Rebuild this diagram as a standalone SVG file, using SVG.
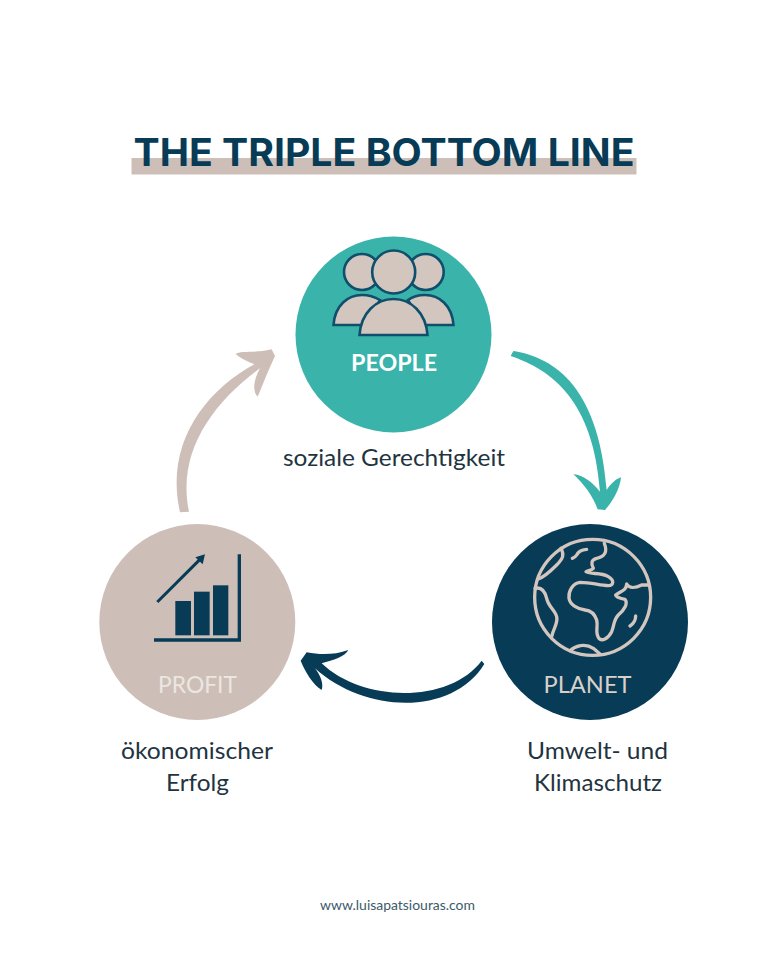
<svg xmlns="http://www.w3.org/2000/svg" width="768" height="960" viewBox="0 0 768 960">
<style>
text{font-family:"Lato","Open Sans","Liberation Sans",sans-serif;text-anchor:middle}
.title{font-family:"Inter","Lato",sans-serif;font-size:38px;font-weight:700;fill:#073b56}
.cap{font-size:23px;font-weight:400;fill:#1f3441}
.tag{font-size:23px;font-weight:400}
.person{fill:#d2c6bf;stroke:#0f4f6b;stroke-width:2.6}
.navy{fill:#073b56}
</style>
<rect width="768" height="960" fill="#fff"/>
<g id="title">
<rect x="131.500" y="158" width="505" height="16.500" fill="#cdbfb8"/>
<text class="title" x="384" y="165.500" textLength="501" lengthAdjust="spacingAndGlyphs">THE TRIPLE BOTTOM LINE</text>
</g>
<g id="connectors">
<path fill="#3ab3aa" transform="translate(495 340) scale(.3333)" d="M47 48L55 33C160 50 310 120 335 450C345 435 360 418 378 412C376 445 350 490 330 510L308 508C295 470 265 430 235 403C265 405 295 430 315 455C295 180 170 90 47 48Z"/>
<path class="navy" transform="translate(290 640) scale(.3333)" d="M575 62L583 72C490 225 230 225 75 85C90 105 102 130 95 150C70 135 45 95 32 62L50 37C90 45 135 45 175 30C165 50 130 60 95 70C220 190 480 190 575 62Z"/>
<path fill="#cdbfb8" transform="translate(165 340) scale(.3333)" d="M72 515L45 517C0 320 110 160 268 73C250 65 225 55 212 42C225 32 270 40 320 28L330 48C310 90 295 130 278 170C262 155 265 120 285 85C140 190 35 340 72 515Z"/>
</g>
<g id="people">
<circle cx="393.500" cy="334.500" r="98" fill="#3ab3aa"/>
<g class="person">
<circle cx="362" cy="272" r="18"/>
<circle cx="425.700" cy="272" r="18"/>
<path d="M333.500 325C335 305 348 295 362 295C369 295 375 297 380 300L366 325Z"/>
<path d="M453.500 325C452 305 439 295 425 295C418 295 412 297 408 300L422 325Z"/>
<circle cx="393.700" cy="272" r="21.500"/>
<path d="M359.500 335C361 313 376 299 393.500 299C411 299 426 313 427.500 335Z"/>
</g>
<text x="394" y="371" font-size="22" font-weight="700" fill="#fff" textLength="86" lengthAdjust="spacingAndGlyphs">PEOPLE</text>
<text class="cap" x="394" y="465.500" textLength="222" lengthAdjust="spacingAndGlyphs">soziale Gerechtigkeit</text>
</g>
<g id="planet">
<circle cx="590" cy="622" r="98" class="navy"/>
<g transform="translate(485 520) scale(.3333)" style="fill:none;stroke:#d2c6bf;stroke-width:10;stroke-linecap:round;stroke-linejoin:round">
<circle cx="323" cy="232" r="174"/>
<path d="M228 85C238 105 235 115 215 135C195 155 180 170 160 177"/>
<path d="M305 88C285 90 278 98 275 105C272 110 268 113 262 115"/>
<path d="M358 70C368 95 360 110 335 115C318 120 318 130 325 145C320 150 310 152 303 155C320 165 345 155 370 170C390 182 385 197 370 197C345 197 320 187 285 187C262 190 250 215 252 235C255 255 280 268 300 270C320 272 330 285 335 300C340 320 330 335 340 352C350 368 370 355 380 335C388 318 385 300 400 285C418 270 430 250 420 238C405 235 392 230 392 225C405 215 425 212 425 192C432 205 450 205 470 195L492 195"/>
<path d="M150 205C170 200 180 215 185 235C190 260 210 270 215 290C220 310 205 325 200 350"/>
<path d="M255 392C270 378 300 368 325 385L345 402"/>
<path d="M435 318C447 310 452 300 452 288"/>
</g>
<text class="tag" x="587.500" y="692.500" fill="#d9d0ca" textLength="88" lengthAdjust="spacingAndGlyphs">PLANET</text>
<text class="cap" x="597.500" y="758.500" textLength="141" lengthAdjust="spacingAndGlyphs">Umwelt- und</text>
<text class="cap" x="598" y="790.500" textLength="128" lengthAdjust="spacingAndGlyphs">Klimaschutz</text>
</g>
<g id="profit">
<circle cx="197.300" cy="622" r="98" fill="#cdbfb8"/>
<g transform="translate(95 520) scale(.3333)">
<path d="M177 360H433V103" fill="none" stroke="#073b56" stroke-width="10"/>
<rect class="navy" x="241" y="243" width="47" height="103"/>
<rect class="navy" x="297" y="215" width="47" height="131"/>
<rect class="navy" x="354" y="196" width="46" height="150"/>
<path d="M187 246L315 118" fill="none" stroke="#073b56" stroke-width="9"/>
<path class="navy" d="M330 103L323 133L301 112Z"/>
</g>
<text class="tag" x="197.500" y="692.500" fill="#ece6e2" textLength="79" lengthAdjust="spacingAndGlyphs">PROFIT</text>
<text class="cap" x="197" y="758.500" textLength="152" lengthAdjust="spacingAndGlyphs">ökonomischer</text>
<text class="cap" x="197.500" y="790.500" textLength="63" lengthAdjust="spacingAndGlyphs">Erfolg</text>
</g>
<text id="footer" x="397.500" y="910" font-size="13.500" fill="#3c5a6a" textLength="155" lengthAdjust="spacingAndGlyphs">www.luisapatsiouras.com</text>
</svg>
